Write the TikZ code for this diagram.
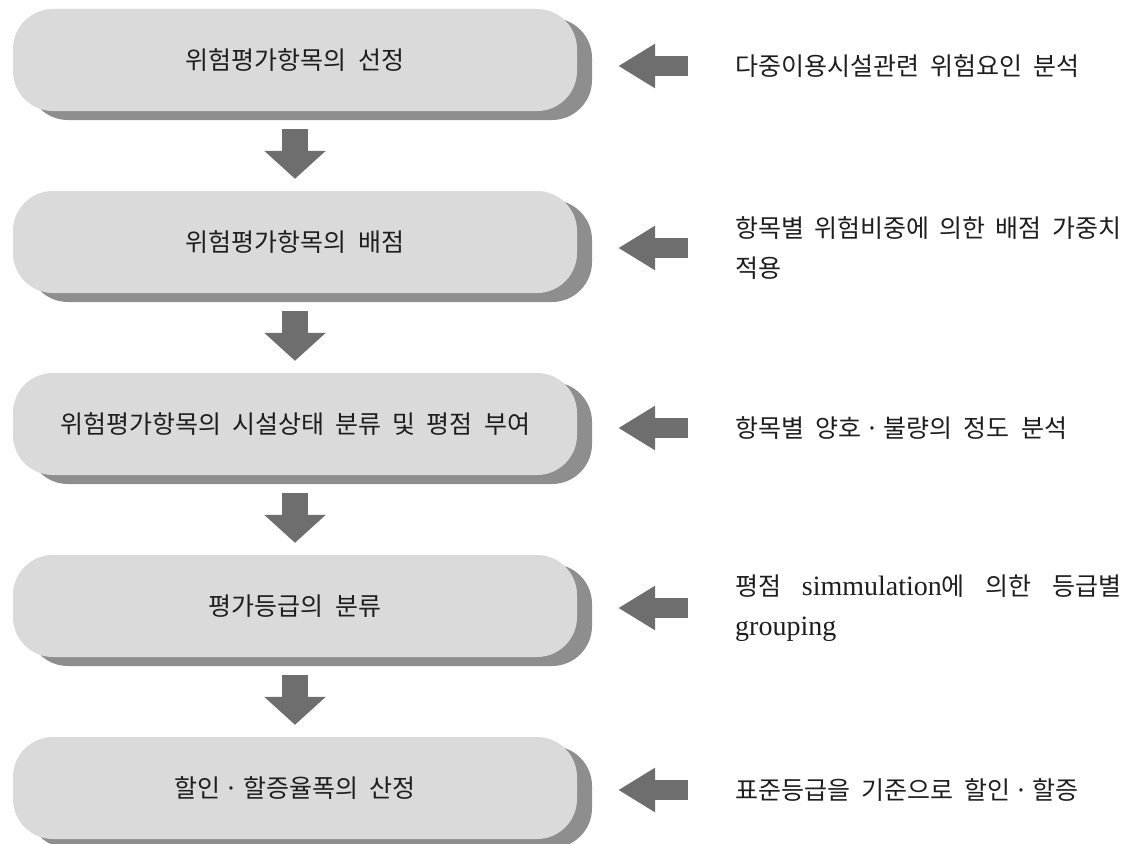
\documentclass[tikz,border=0pt]{standalone}
\usepackage{fontspec}
\setmainfont[WordSpace=2]{Noto Sans CJK KR}
\newfontfamily\latinfont{Liberation Serif}
\usetikzlibrary{arrows.meta,shadows}

\definecolor{facegray}{RGB}{218,218,218}
\definecolor{shadegray}{RGB}{142,142,142}
\definecolor{arrowgray}{RGB}{110,110,110}
\definecolor{inkgray}{RGB}{30,30,30}

\tikzset{
  stepbox/.style={draw=none, fill=facegray, rounded corners=40pt,
    minimum width=564pt, minimum height=102pt, inner sep=0pt,
    text=inkgray, font=\fontsize{25pt}{30pt}\selectfont,
    general shadow={fill=shadegray, shadow xshift=15pt, shadow yshift=-9pt}},
  notetext/.style={anchor=west, inner sep=0pt, text=inkgray, align=left,
    font=\fontsize{25pt}{40pt}\selectfont},
  downarrow/.style={draw=arrowgray, line width=26pt,
    -{Triangle[width=60pt, length=28pt]}},
  leftarrow/.style={draw=arrowgray, line width=20pt,
    -{Triangle[width=42pt, length=37pt]}}
}
\newcommand{\lat}[1]{{\latinfont\fontsize{28pt}{40pt}\selectfont #1}}

\begin{document}
\begin{tikzpicture}[x=1pt, y=-1pt]
  \useasboundingbox (0,0) rectangle (1131,843);

  % Steps
  \node[stepbox] (b1) at (295,60) {위험평가항목의 선정};
  \node[stepbox] (b2) at (295,242) {위험평가항목의 배점};
  \node[stepbox] (b3) at (295,424) {위험평가항목의 시설상태 분류 및 평점 부여};
  \node[stepbox] (b4) at (295,606) {평가등급의 분류};
  \node[stepbox] (b5) at (295,788) {할인\,·\,할증율폭의 산정};

  % Notes
  \node[notetext] (t1) at (735,66) {다중이용시설관련 위험요인 분석};
  \node[notetext] (t2) at (735,248) {\makebox[386pt][s]{항목별 위험비중에 의한 배점 가중치}\\적용};
  \node[notetext] (t3) at (735,428) {항목별 양호\,·\,불량의 정도 분석};
  \node[notetext] (t4) at (735,608) {\makebox[386pt][s]{평점 \lat{simmulation}에 의한 등급별}\\\lat{grouping}};
  \node[notetext] (t5) at (735,790) {표준등급을 기준으로 할인\,·\,할증};

  % Flow
  \draw[downarrow] ([yshift=-18pt]b1.south) -- ([yshift=12pt]b2.north);
  \draw[downarrow] ([yshift=-18pt]b2.south) -- ([yshift=12pt]b3.north);
  \draw[downarrow] ([yshift=-18pt]b3.south) -- ([yshift=12pt]b4.north);
  \draw[downarrow] ([yshift=-18pt]b4.south) -- ([yshift=12pt]b5.north);

  % Inputs
  \draw[leftarrow] ([xshift=-47pt]t1.west) -- ([xshift=41pt]t1.west -| b1.east);
  \draw[leftarrow] ([xshift=-47pt]t2.west) -- ([xshift=41pt]t2.west -| b2.east);
  \draw[leftarrow] ([xshift=-47pt]t3.west) -- ([xshift=41pt]t3.west -| b3.east);
  \draw[leftarrow] ([xshift=-47pt]t4.west) -- ([xshift=41pt]t4.west -| b4.east);
  \draw[leftarrow] ([xshift=-47pt]t5.west) -- ([xshift=41pt]t5.west -| b5.east);
\end{tikzpicture}
\end{document}
